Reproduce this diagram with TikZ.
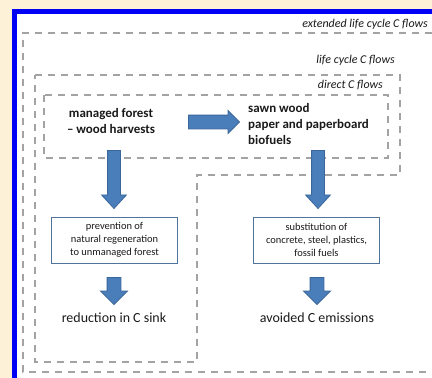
\documentclass[tikz,border=0pt]{standalone}
\usepackage{fontspec}
\setmainfont{Carlito}
\usetikzlibrary{shapes.arrows}
\definecolor{cream}{HTML}{FDF1D7}
\definecolor{frameblue}{HTML}{0000F5}
\definecolor{arrowfill}{HTML}{4A7EBB}
\definecolor{arrowline}{HTML}{3B6699}
\definecolor{dashgray}{HTML}{A3A3A3}
\definecolor{boxline}{HTML}{50739A}
\definecolor{txt}{HTML}{1A1A1A}
\begin{document}
\begin{tikzpicture}[x=1bp,y=-1bp,
  flowline/.style={draw=dashgray, line width=1.5bp, dash pattern=on 7bp off 6bp},
  lab/.style={font=\fontsize{12}{14}\selectfont\itshape, text=txt, inner sep=0pt},
  headtxt/.style={font=\fontsize{13}{16.5}\selectfont\bfseries, text=txt, inner sep=0pt},
  boxtxt/.style={draw=boxline, line width=1bp, fill=white, minimum width=125bp, minimum height=46bp,
     align=center, inner sep=0pt, font=\fontsize{10.5}{13}\selectfont, text=txt},
  restxt/.style={font=\fontsize{14}{16}\selectfont, text=txt, inner sep=0pt},
  blockarrow/.style={single arrow, draw=arrowline, fill=arrowfill, line width=0.8bp,
     inner sep=0pt},
]
\useasboundingbox (0,0) rectangle (432,378);
\fill[cream] (0,0) rectangle (432,378);
\fill[frameblue] (12,9) rectangle (432,378);
\fill[white] (16.5,13.5) rectangle (432,378);

% flow boundaries
\draw[flowline] (432,33) -- (23,33) -- (23,372) -- (432,372);
\draw[flowline] (35,75) -- (400,75) -- (400,175) -- (197,175) -- (197,362) -- (35,362) -- cycle;
\draw[flowline] (44,95) rectangle (388,158);

\node[lab, anchor=base east] (extlab) at (428,27) {extended life cycle C flows};
\node[lab, anchor=base east] (lclab) at (395,63) {life cycle C flows};
\node[lab, anchor=base east] (dirlab) at (383,88) {direct C flows};

% main texts
\node[headtxt, align=center] (forest) at (111,121) {managed forest\\– wood harvests};
\node[headtxt, align=left, anchor=west] (products) at (248,124) {sawn wood\\paper and paperboard\\biofuels};

% block arrows
\node[blockarrow, inner ysep=6.5bp, single arrow head extend=4.5bp, minimum height=51bp,
      single arrow tip angle=90] (arrH) at (210.5,122) {};
\node[blockarrow, inner ysep=6bp, single arrow head extend=6bp, minimum height=58bp,
      single arrow tip angle=85, rotate=-90] (arrL) at (114,176) {};
\node[blockarrow, inner ysep=6bp, single arrow head extend=6bp, minimum height=58bp,
      single arrow tip angle=85, rotate=-90] (arrR) at (318,176) {};

% boxes
\node[boxtxt] (prev) at (114.5,240) {prevention of\\natural regeneration\\to unmanaged forest};
\node[boxtxt] (subst) at (316.5,240) {substitution of\\concrete, steel, plastics,\\fossil fuels};

\node[blockarrow, inner ysep=6.5bp, single arrow head extend=6.5bp, minimum height=27bp,
      single arrow tip angle=90, rotate=-90] (arrL2) at (114,287.5) {};
\node[blockarrow, inner ysep=6.5bp, single arrow head extend=6.5bp, minimum height=27bp,
      single arrow tip angle=90, rotate=-90] (arrR2) at (317,287.5) {};

\node[restxt] (sink) at (114,318) {reduction in C sink};
\node[restxt] (avoid) at (317,318) {avoided C emissions};
\end{tikzpicture}
\end{document}
